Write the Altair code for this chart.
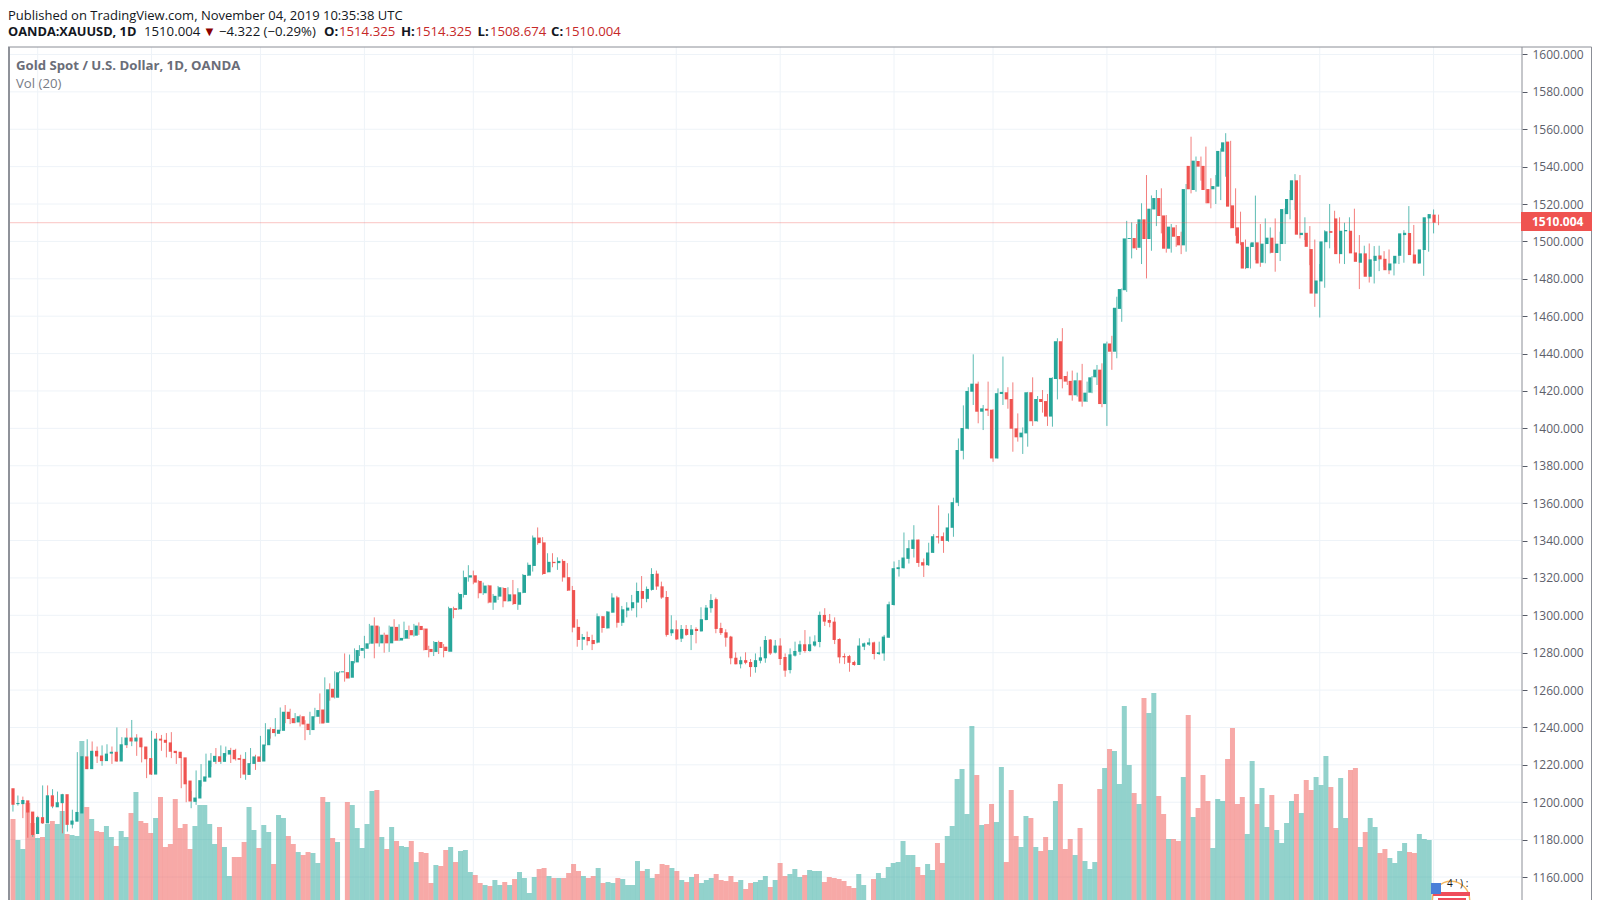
import altair as alt
import pandas as pd

opens = [1207.5,1199,1199,1201,1195,1183,1192,1188.7,1203.7,1197.3,1199.5,1204.3,1188,1189.6,1194,1224.5,1217.7,1227.5,1225,1222,
1226,1227,1221.8,1230.5,1234.6,1232.5,1234.6,1229.8,1223.6,1214.8,1234,1233.4,1232,1227.5,1227,1224,1211.6,1200.2,1202,1211,
1213.2,1221.6,1224.6,1221.6,1225.5,1228,1223.6,1223.2,1214.6,1220.5,1224.5,1221.8,1230.5,1239.2,1236.6,1238.2,1248.4,1245,1242.7,1246,
1242,1238.6,1245.7,1249.6,1242.5,1260.7,1255.9,1269.5,1269.6,1266.6,1274.8,1281,1282.1,1284.8,1294.5,1285,1289.6,1285,1293.8,1286.5,
1287.5,1292.1,1289.1,1294.3,1292.9,1282,1280.4,1285.7,1283.2,1280.5,1303.8,1303.2,1310.9,1320.2,1321.4,1318.4,1311.8,1316,1306.8,1310,
1314.6,1307.5,1311.2,1305.7,1312,1321.2,1326.4,1341.6,1339,1323,1328.6,1327.9,1329.1,1320.4,1313.5,1293.8,1287,1288.4,1286.8,1285.4,
1299.5,1293,1301.4,1309.6,1296,1302.5,1303.8,1306.8,1313,1308.8,1313.6,1322.3,1315.5,1309.8,1290.4,1292.5,1287.5,1292.7,1289.5,1292.7,
1291.4,1297.5,1303.8,1308.6,1293.2,1290.9,1288.6,1277.3,1273.8,1276,1275,1272.3,1275.7,1277,1287,1280,1283.8,1277.7,1270.7,1278.4,
1280.5,1284.5,1280.9,1283.8,1285.7,1300.2,1297.5,1296.6,1287.3,1278.2,1278.2,1275,1273.4,1283.2,1284.3,1285.5,1279.3,1279.6,1288,1305.5,
1324.7,1325.2,1330.2,1335.5,1340.5,1328.4,1326.8,1333.4,1342.3,1342.3,1339.8,1346.8,1360.2,1388,1399.8,1419.6,1423.9,1408.9,1410.5,1410,
1383.9,1418.4,1419.3,1415.7,1400,1395.2,1397.3,1419.3,1403.8,1415.7,1414.6,1406.3,1426.4,1446.6,1428,1425.4,1417.7,1425.7,1414.3,1419.1,
1427.3,1431.4,1413,1445.4,1441,1463.9,1473.9,1501.3,1501.8,1496.6,1511.8,1501.3,1517.1,1523.2,1513.9,1496.1,1507.5,1502.9,1497.9,1540.4,
1527.5,1543,1540.4,1528,1527.9,1529.3,1548,1553.4,1519.3,1507.5,1499.6,1485.7,1497,1499.5,1488.6,1498.6,1502,1493.8,1498.6,1514.6,
1522.1,1532.7,1503.4,1504.6,1495.9,1472.1,1478.6,1499.6,1505.5,1512.3,1493.2,1505.4,1505.7,1494.1,1488.6,1493.6,1481.1,1489.6,1492.5,1490.7,
1484.5,1488.2,1492.3,1503.4,1504.5,1493,1488.2,1495.4,1512.3,1514.325]
closes = [1198.6,1199.6,1201.2,1194.5,1182.5,1192,1188.7,1203.7,1197.7,1200,1204.3,1187.9,1190.2,1194.8,1224.6,1217.7,1227.5,1224.5,1222,1226,
1227,1221.8,1231,1234.6,1232.5,1234.6,1229.4,1223,1214.8,1234,1233,1231.8,1227,1226.3,1223.6,1209.6,1200.4,1202.5,1211.8,1213.8,
1222.3,1224.8,1221.6,1226.3,1227.9,1223,1222.7,1214.8,1220.9,1224.5,1221.6,1230.9,1239,1237,1238.8,1248.4,1244.5,1242.3,1246,1241.6,
1238.6,1246,1249.3,1242.1,1260.4,1256,1269.5,1270,1266.2,1275.5,1281.4,1282.5,1285,1294.5,1285,1289.6,1285,1293.9,1286.4,1287.9,
1292.1,1289.3,1294.5,1292.1,1281.4,1280.4,1285.7,1282.5,1280.9,1303.8,1302.9,1311.4,1320.4,1321.4,1317.5,1311.8,1315.9,1306.8,1310.4,1315,
1307.5,1311.2,1306,1312.3,1321.6,1327,1341.6,1338.6,1322.1,1328.6,1327.9,1329.1,1320.2,1313.2,1293.4,1286.8,1288.4,1286.2,1284.6,1299.5,
1293.2,1302,1309.5,1296,1303.2,1304.1,1307,1313,1308.8,1314.1,1322.1,1315.4,1309.5,1289.5,1292.5,1287.1,1292.7,1289.5,1292.5,1291.6,
1297.9,1304.1,1308.2,1292.7,1290.5,1288,1277,1273.8,1276,1274.6,1272.3,1276,1277.5,1286.8,1279.6,1283.8,1276.6,1270.4,1279.1,1280.9,
1284.5,1280.9,1284.5,1286,1300.2,1296.6,1296,1286.8,1277.5,1277.5,1274.6,1273.4,1283.8,1285,1285.5,1279.3,1280.2,1288.6,1305.9,1325.2,
1325.7,1330.9,1335.9,1340.5,1328,1326.6,1333.6,1342.3,1341.6,1339.8,1347,1360.5,1388.4,1400.2,1420,1423.9,1408.9,1410.7,1409.5,1383.9,
1418.8,1419.5,1415.5,1399.8,1395.2,1397.7,1419.3,1403.8,1415.7,1414.1,1406.3,1427,1446.6,1426.3,1425,1417.7,1425.7,1414.3,1419.1,1427.3,
1431.4,1413,1445.4,1441,1464.5,1474.5,1501.6,1501.8,1496.3,1511.8,1501.3,1517.5,1523.2,1513.6,1496.1,1507.9,1502.5,1497.9,1528,1527.9,
1543.2,1540,1527.5,1520.4,1529.6,1548.4,1553,1518.6,1507.1,1498.9,1485.5,1497.1,1499.5,1488.2,1498.8,1502,1493.9,1498.8,1517.3,1522.7,
1532.7,1503.6,1504.6,1497.1,1472.1,1479.1,1500,1505.4,1504.6,1493.2,1505.7,1506.1,1493.6,1489.1,1493.6,1481.1,1490.4,1492.3,1490.4,1484.6,
1488.2,1492.3,1504.3,1504.6,1492.7,1488.2,1495.7,1512.9,1514.6,1510.004]
highs = [1208,1204.8,1203.6,1203,1199,1194,1192.7,1209,1209,1207,1205.7,1204.5,1192.3,1196,1226.8,1224.6,1233.7,1232.5,1229.8,1230.4,
1231,1229.8,1240,1234.8,1239.6,1244,1236.4,1231.3,1224.8,1238.2,1237,1236,1237,1237.5,1227.1,1224.1,1212,1206,1217,1220.4,
1226,1226.3,1229,1230.4,1229.8,1229.1,1228.6,1225.4,1226.8,1229,1225.4,1235.5,1242.3,1240,1245,1250.7,1252,1250,1247.7,1246.8,
1243.9,1248.4,1250.5,1258.2,1266.8,1263.6,1270,1270.2,1279.6,1279,1282.3,1284,1289,1295.4,1298.9,1294,1290.7,1294.5,1297.9,1295.2,
1296.6,1294.5,1295.4,1296.2,1293,1283.7,1286.2,1286.4,1284.6,1304.6,1304.6,1312.1,1323.9,1326.8,1323.9,1318.9,1317.5,1316.3,1311.4,1315.7,
1315,1315,1318.9,1314.5,1322.1,1328.2,1342.7,1347,1341.8,1333.2,1333.2,1331,1330,1327.9,1315.7,1297.9,1290,1291.3,1289.6,1301,
1299.6,1302.3,1311.8,1310.4,1305,1307,1310.9,1317.5,1321,1315.4,1325.2,1323.9,1318,1313,1300,1297.3,1294.8,1294.8,1294.8,1293.6,
1304.3,1305.5,1311.3,1309.5,1296,1292.5,1289,1280.2,1277.9,1280.2,1276.6,1279.6,1283.2,1288.9,1287.3,1286.8,1287.7,1279.6,1282.3,1285.9,
1286.4,1292.1,1288.6,1289.3,1302,1303.8,1300.7,1298.9,1287.7,1279.6,1278.8,1275.7,1287.7,1285.4,1287.7,1285.9,1285.9,1289.5,1307.3,1328.8,
1329.6,1344.3,1340.2,1348.2,1340.5,1330.4,1338.8,1343.4,1358.8,1344.3,1354.5,1362.9,1394.6,1412.3,1422,1439.6,1425,1412.5,1425,1410.2,
1421.4,1438.4,1422,1424.6,1408,1400.5,1419.5,1427.3,1417.3,1420.5,1418.4,1427.3,1448.2,1453.6,1430.4,1430.9,1429.8,1434.5,1425,1428,
1433.9,1434.8,1446.4,1449.5,1470.4,1474.8,1511,1510.2,1509.3,1520.4,1535.5,1524.6,1527.5,1528.4,1514.1,1509.3,1508.8,1505.2,1530.7,1556,
1545.4,1545.4,1550.7,1533.8,1535.5,1549.8,1557.9,1553.8,1528.4,1515.9,1501,1498.9,1524.5,1509.3,1512.3,1507.5,1512.3,1505.2,1517.7,1527.5,
1536,1535.5,1512.9,1508.2,1501,1487.9,1506,1520,1516.4,1512.9,1510,1512.9,1517.5,1503.4,1497.7,1498.9,1497.5,1497.7,1494.8,1495.7,
1489.6,1496.6,1506,1518.9,1508.8,1495.4,1497.1,1514.6,1517.1,1514.325]
lows = [1198,1195,1198.2,1191.5,1181,1181.5,1185,1188.4,1196.8,1196.8,1198.2,1183.4,1184.3,1186,1192.3,1217,1217.7,1224,1221,1219.5,
1223.6,1220.5,1221.6,1226.6,1229,1230,1224.8,1221.3,1212.9,1214.6,1230.7,1227.5,1224,1223.6,1220.5,1207.5,1200,1196.8,1198.6,1208.4,
1212.9,1218.8,1220.5,1220.5,1224.5,1221,1222.3,1212.9,1212,1220.5,1217.3,1221.6,1230.2,1234,1235.2,1238,1242.3,1241.8,1242.3,1240.5,
1233.2,1236,1245.4,1242,1242.5,1254.3,1255.5,1269,1264.5,1266.2,1274.3,1278.2,1277,1284.5,1277,1283.2,1280,1280.4,1286.2,1286.2,
1287.3,1287.3,1288.6,1289.5,1281.2,1277.5,1278.2,1279.3,1277.5,1280.5,1298.4,1303,1309.5,1318,1316.6,1309.1,1310.9,1306.4,1302.9,1308.2,
1304.3,1307.3,1305.5,1302.9,1311.8,1321,1323.4,1337.7,1321.6,1323,1325.7,1324.3,1318,1313,1290.9,1283.2,1281.4,1283.9,1281.4,1285,
1290.7,1292.9,1301.4,1293.4,1294.3,1298.9,1302.5,1298.9,1303.8,1307,1313.2,1313.6,1308.8,1288.6,1289,1286.8,1285.7,1289,1281.4,1285,
1291.3,1297.3,1301.4,1290.4,1289.5,1283.2,1273.8,1273.8,1271.6,1273.8,1267.1,1269.3,1274.3,1274.6,1278.8,1279.6,1273.4,1267.1,1268.9,1277.9,
1278.8,1280,1280.5,1283.2,1282.9,1294.3,1293.6,1284.6,1274.3,1273.9,1269.8,1273,1273.4,1281.4,1283.6,1276.4,1278.8,1275.7,1288,1305.2,
1320.7,1325,1327.7,1330.9,1325.9,1320.5,1326.4,1333.4,1338.4,1333.4,1339.3,1342,1358.4,1383.4,1399.5,1412.5,1402.7,1399.1,1406.6,1382.1,
1383.8,1412.5,1410.5,1387.5,1392.9,1386.3,1390.2,1401.3,1403.6,1408.4,1401.3,1400.9,1415.5,1421.4,1423.2,1414.8,1417,1411.6,1414.1,1418.8,
1423.2,1411.3,1401.3,1431.3,1437.5,1457,1473,1490.9,1495.4,1487.9,1480.2,1495,1508.2,1504.3,1494,1494,1497.1,1493.2,1494.5,1525.7,
1526.6,1532.5,1520.4,1517.7,1520,1522.1,1534.6,1507,1503,1498,1485.2,1485.5,1490,1486.4,1488.3,1493.6,1483.8,1489.5,1498.6,1511.8,
1516.8,1501.6,1500.7,1487.3,1465,1459.3,1475.2,1496.3,1496.8,1488.2,1487.9,1500.7,1493.2,1474.5,1482.9,1478,1477.5,1484.1,1486.4,1482.5,
1481.8,1487.9,1488.6,1501.6,1490.9,1488,1481.6,1494.5,1504.3,1508.674]
volumes = [81,60,51,97,77,62,63,76,79,76,89,66,65,64,159,93,81,69,68,74,63,54,69,63,87,108,79,77,67,82,103,53,56,101,72,76,51,74,95,95,
76,56,73,53,24,43,43,58,93,70,52,75,68,36,85,82,64,56,48,45,48,47,37,103,98,62,58,0,98,95,72,52,76,109,110,63,51,73,59,54,
53,59,38,48,47,17,35,34,50,53,38,49,50,28,25,17,15,14,20,15,18,15,21,28,22,7,23,31,32,24,22,22,22,27,36,29,24,22,24,32,
17,18,17,22,21,15,15,39,29,31,22,26,36,35,32,29,20,18,23,26,17,20,22,26,20,19,24,18,20,11,17,18,20,24,13,20,37,24,26,31,
23,25,30,29,29,18,23,22,21,19,14,12,26,15,0,21,27,22,33,37,38,59,45,45,33,25,36,30,57,37,64,74,121,131,86,174,125,75,76,96,
78,133,38,110,64,53,84,82,53,49,63,50,99,116,51,61,45,72,39,31,38,111,132,151,149,116,194,135,107,96,202,187,207,104,86,61,61,59,123,185,
83,92,125,99,52,101,99,141,172,96,103,66,139,96,112,73,105,70,57,77,99,106,87,120,110,123,115,144,113,72,122,82,130,132,53,68,82,73,47,51,
42,37,49,57,48,47,66,61,60,0]
month_starts = [6,29,51,72,94,114,135,156,179,199,222,244,265,288]
price_ticks = list(range(1160, 1601, 20))
last_price = 1510.004

assert len(opens) == len(closes) == len(highs) == len(lows) == len(volumes), (len(opens), len(closes), len(highs), len(lows), len(volumes))

UP, DOWN = "#26a69a", "#ef5350"
FONT = "Open Sans"
FS = 13.2
W, H = 1514, 853
GRID = "#eef3f8"
FRAME = "#8b8e96"

df = pd.DataFrame({"i": range(len(opens)), "o": opens, "h": highs, "l": lows, "c": closes, "v": volumes})
df["d"] = ["up" if c >= o else "down" for o, c in zip(df.o, df.c)]

xs = alt.Scale(domain=[0, 305.86], nice=False, zero=False)
ys = alt.Scale(domain=[1147.7, 1604.0], nice=False, zero=False)
vs = alt.Scale(domain=[0, 853], nice=False, zero=False)
col = alt.Color("d:N", scale=alt.Scale(domain=["up", "down"], range=[UP, DOWN]), legend=None)
X = alt.X("i:Q", scale=xs, axis=None)

base = alt.Chart(df)

hgrid = alt.Chart(pd.DataFrame({"p": price_ticks})).mark_rule(color=GRID, strokeWidth=1).encode(
    y=alt.Y("p:Q", scale=ys, axis=alt.Axis(orient="right", values=price_ticks, format=".3f", title=None,
        grid=False, domain=False, tickColor="#555a66", tickSize=5, labelColor="#5d606b",
        labelFont=FONT, labelFontSize=12, labelPadding=5)),
    x=alt.value(0), x2=alt.value(W))
vgrid = alt.Chart(pd.DataFrame({"m": month_starts})).mark_rule(color=GRID, strokeWidth=1).encode(
    x=alt.X("m:Q", scale=xs, axis=None), y=alt.value(0), y2=alt.value(H))

vol = base.mark_bar(size=5, opacity=0.5).encode(
    x=X, y=alt.Y("v:Q", scale=vs, axis=None), color=col)
wick = base.mark_rule(strokeWidth=1, opacity=0.75).encode(
    x=X, y=alt.Y("l:Q", scale=ys, axis=None), y2="h:Q", color=col)
body = base.mark_bar(size=3.2).encode(
    x=X, y=alt.Y("o:Q", scale=ys, axis=None), y2="c:Q", color=col)
pline = alt.Chart(pd.DataFrame({"p": [last_price]})).mark_rule(color=DOWN, opacity=0.35, strokeWidth=1).encode(
    y=alt.Y("p:Q", scale=ys, axis=None), x=alt.value(0), x2=alt.value(W))

def frame(x, y, x2=None, y2=None, w=1.0, color=FRAME):
    enc = dict(x=alt.value(x), y=alt.value(y))
    if x2 is not None:
        enc["x2"] = alt.value(x2)
    if y2 is not None:
        enc["y2"] = alt.value(y2)
    return alt.Chart(pd.DataFrame({"a": [0]})).mark_rule(color=color, strokeWidth=w).encode(**enc)

def label(t, x, y, color="#131722", weight="normal", size=FS, align="left"):
    return alt.Chart(pd.DataFrame({"a": [0]})).mark_text(
        font=FONT, fontSize=size, fontWeight=weight, color=color, align=align, baseline="middle"
    ).encode(x=alt.value(x), y=alt.value(y), text=alt.value(t))

def box(x, x2, y, y2, color):
    return alt.Chart(pd.DataFrame({"a": [0]})).mark_rect(color=color).encode(
        x=alt.value(x), x2=alt.value(x2), y=alt.value(y), y2=alt.value(y2))

RED = "#c62828"
texts = [
    label("Published on TradingView.com, November 04, 2019 10:35:38 UTC", 0, -31.5, size=13),
    label("OANDA:XAUUSD, 1D", 0, -15, weight="bold", size=12.8),
    label("1510.004", 136, -15),
    label("▼", 195, -15, color="#8b0000", size=13),
    label("−4.322 (−0.29%)", 211, -15),
    label("O:", 316, -15, weight="bold"),
    label("1514.325", 331, -15, color=RED),
    label("H:", 393, -15, weight="bold"),
    label("1514.325", 407.5, -15, color=RED),
    label("L:", 469.5, -15, weight="bold"),
    label("1508.674", 482, -15, color=RED),
    label("C:", 543, -15, weight="bold"),
    label("1510.004", 556.5, -15, color=RED),
    label("Gold Spot / U.S. Dollar, 1D, OANDA", 8, 19, color="#6a6d78", weight="bold"),
    label("Vol (20)", 8, 37, color="#787b86"),
]
frames = [
    frame(0, 0, y2=H, w=4, color="#8f9299"),
    frame(0, 0, x2=1583.5),
    frame(W, 0, y2=H),
    frame(1583.5, 0, y2=H),
]
tag = [
    box(1513, 1584, 165, 184, DOWN),
    label("1510.004", 1524, 175, color="#ffffff", weight="bold", size=12),
]
badge = [
    alt.Chart(pd.DataFrame({"a": [0]})).mark_point(shape="circle", size=1400, color="#f5b860", strokeWidth=1.4, filled=False, opacity=1).encode(
        x=alt.value(1443), y=alt.value(853)),
    box(1425, 1462, 845, 849, "#ef4c5a"),
    box(1430, 1458, 851, 853, "#ef4c5a"),
    box(1423, 1433, 836, 847, "#4a80d8"),
    label("4 ' ) :", 1439, 837, size=10),
]

chart = alt.layer(
    hgrid, vgrid, vol, wick, body, pline, *frames, *tag, *badge, *texts
).resolve_scale(y="independent", x="independent", color="shared").properties(
    width=W, height=H,
    padding={"left": 0, "top": 39, "right": 70, "bottom": 0},
    autosize=alt.AutoSizeParams(type="none"),
    background="#ffffff",
).configure_view(stroke=None)

chart.save("out.html", embed_options={"renderer": "svg", "actions": False})
